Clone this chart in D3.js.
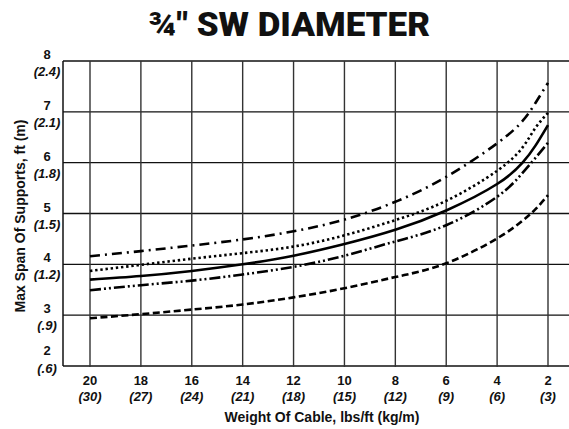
<!DOCTYPE html>
<html>
<head>
<meta charset="utf-8">
<script src="https://cdn.jsdelivr.net/npm/d3@7"></script>
<style>
  html, body { margin: 0; padding: 0; background: #fff; }
  svg { display: block; }
</style>
</head>
<body>
<svg id="chart" width="569" height="429"></svg>
<script>
// ---- data ----
const weightsLbs = [20, 18, 16, 14, 12, 10, 8, 6, 4, 3, 2.5, 2];
const xTicks = [20, 18, 16, 14, 12, 10, 8, 6, 4, 2];
const xTickMetric = ["(30)", "(27)", "(24)", "(21)", "(18)", "(15)", "(12)", "(9)", "(6)", "(3)"];
const yTicks = [8, 7, 6, 5, 4, 3, 2];
const yTickMetric = ["(2.4)", "(2.1)", "(1.8)", "(1.5)", "(1.2)", "(.9)", "(.6)"];

const seriesDashDot    = [4.16, 4.26, 4.37, 4.49, 4.65, 4.88, 5.23, 5.72, 6.38, 6.82, 7.17, 7.57];
const seriesDotted     = [3.87, 3.99, 4.11, 4.22, 4.35, 4.57, 4.87, 5.25, 5.84, 6.30, 6.68, 6.98];
const seriesSolid      = [3.70, 3.77, 3.87, 4.00, 4.17, 4.40, 4.68, 5.06, 5.58, 6.00, 6.33, 6.74];
const seriesDashDotDot = [3.49, 3.59, 3.68, 3.80, 3.95, 4.17, 4.45, 4.77, 5.33, 5.80, 6.09, 6.39];
const seriesDashed     = [2.94, 3.02, 3.11, 3.21, 3.35, 3.53, 3.75, 4.02, 4.51, 4.86, 5.08, 5.36];

const seriesList = [
  { values: seriesDashDot,    dash: "10,5,2,5" },
  { values: seriesDotted,     dash: "2.4,2.8" },
  { values: seriesSolid,      dash: null },
  { values: seriesDashDotDot, dash: "11,3,2,3,2,3" },
  { values: seriesDashed,     dash: "7,3.5" }
];

const titleText = "\u00BE\" SW DIAMETER";
const xTitle = "Weight Of Cable, lbs/ft (kg/m)";
const yTitle = "Max Span Of Supports, ft (m)";

// ---- layout ----
const svg = d3.select("#chart");
const plotLeft = 63, plotRight = 569, plotTop = 61, plotBottom = 366;

const x = d3.scaleLinear().domain([20, 2]).range([90, 548]);
const y = d3.scaleLinear().domain([2, 8]).range([plotBottom, plotTop]);

// title
svg.append("text")
  .attr("x", 289).attr("y", 36)
  .attr("text-anchor", "middle")
  .attr("font-family", "Roboto, 'Liberation Sans', sans-serif")
  .attr("font-weight", 900)
  .attr("font-size", 33)
  .attr("textLength", 282)
  .attr("lengthAdjust", "spacingAndGlyphs")
  .attr("fill", "#111")
  .text(titleText);

// horizontal grid
svg.append("g").selectAll("line").data(yTicks).join("line")
  .attr("x1", plotLeft).attr("x2", plotRight)
  .attr("y1", d => y(d)).attr("y2", d => y(d))
  .attr("stroke", "#111").attr("stroke-width", 1.3);

// vertical grid
svg.append("g").selectAll("line").data(xTicks).join("line")
  .attr("x1", d => x(d)).attr("x2", d => x(d))
  .attr("y1", plotTop).attr("y2", plotBottom + 1)
  .attr("stroke", "#333").attr("stroke-width", 1.4);

// left axis line
svg.append("line")
  .attr("x1", plotLeft).attr("x2", plotLeft)
  .attr("y1", plotTop).attr("y2", plotBottom)
  .attr("stroke", "#111").attr("stroke-width", 1.5);

// y tick labels
const font = "'Liberation Sans', Arial, sans-serif";
const yl = svg.append("g").attr("font-family", font).attr("font-weight", "bold")
  .attr("font-size", 13).attr("text-anchor", "middle").attr("fill", "#111");
yTicks.forEach((t, i) => {
  const last = i === yTicks.length - 1;
  const base = y(t);
  yl.append("text").attr("x", 47).attr("y", base + (last ? -11 : -2)).text(t);
  yl.append("text").attr("x", 47).attr("y", base + (last ? 7 : 15))
    .attr("font-style", "italic").text(yTickMetric[i]);
});

// x tick labels
const xl = svg.append("g").attr("font-family", font).attr("font-weight", "bold")
  .attr("font-size", 13).attr("text-anchor", "middle").attr("fill", "#111");
xTicks.forEach((t, i) => {
  xl.append("text").attr("x", x(t)).attr("y", 385).text(t);
  xl.append("text").attr("x", x(t)).attr("y", 401)
    .attr("font-style", "italic").text(xTickMetric[i]);
});

// axis titles
svg.append("text")
  .attr("x", 322).attr("y", 422)
  .attr("text-anchor", "middle")
  .attr("font-family", font).attr("font-weight", "bold").attr("font-size", 14)
  .attr("fill", "#111")
  .text(xTitle);

svg.append("text")
  .attr("transform", "translate(25,216) rotate(-90)")
  .attr("text-anchor", "middle")
  .attr("font-family", font).attr("font-weight", "bold").attr("font-size", 14)
  .attr("fill", "#111")
  .text(yTitle);

// curves
const line = d3.line()
  .x((d, i) => x(weightsLbs[i]))
  .y(d => y(d))
  .curve(d3.curveNatural);

svg.append("g").selectAll("path").data(seriesList).join("path")
  .attr("d", s => line(s.values))
  .attr("fill", "none")
  .attr("stroke", "#000")
  .attr("stroke-width", 2.6)
  .attr("stroke-dasharray", s => s.dash);
</script>
</body>
</html>
